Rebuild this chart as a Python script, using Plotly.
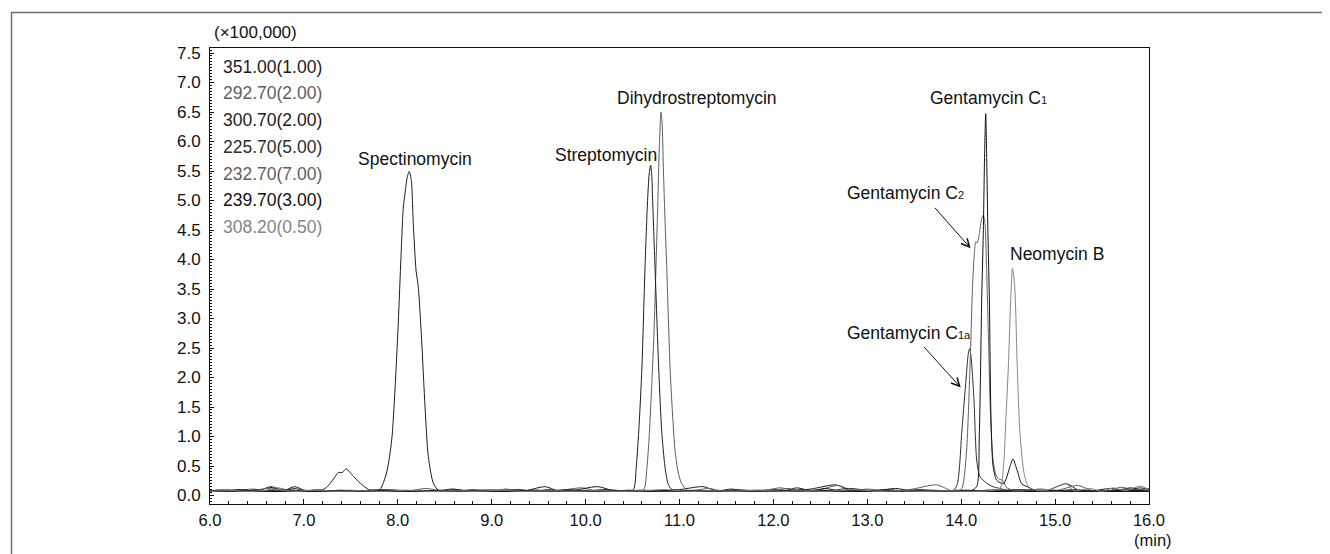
import plotly.graph_objects as go

# ---------------- data (retention time in min, intensity in x100,000) ----------------
CHANNELS = ["351.00(1.00)", "292.70(2.00)", "300.70(2.00)", "225.70(5.00)",
            "232.70(7.00)", "239.70(3.00)", "308.20(0.50)"]
CHANNEL_COLORS = ["#1c1c1c", "#5e5e5e", "#1c1c1c", "#2e2e2e", "#606060", "#111111", "#858585"]

# 351.00 - Spectinomycin
T_351 = [6.0, 6.1, 6.2, 6.3, 6.4, 6.5, 6.6, 6.65, 6.7, 6.8, 6.9, 7.0, 7.1, 7.2, 7.25,
         7.31, 7.37, 7.41, 7.45, 7.53, 7.6, 7.69, 7.77, 7.81,
         7.88, 7.935, 7.97, 8.005, 8.034, 8.059, 8.077, 8.101, 8.122, 8.144, 8.165, 8.194,
         8.218, 8.254, 8.29, 8.325, 8.378, 8.431, 8.5, 8.62, 8.75, 8.9, 9.05, 9.2, 9.35,
         9.57, 9.7, 9.85, 10.0, 10.2, 10.4, 10.6, 10.8, 11.0, 11.25, 11.4, 11.6, 11.8,
         12.0, 12.2, 12.4, 12.67, 12.8, 13.0, 13.2, 13.4, 13.6, 13.8, 14.0, 14.3, 14.6,
         14.9, 15.12, 15.25, 15.4, 15.6, 15.75, 15.9, 16.0]
I_351 = [0.08, 0.09, 0.08, 0.10, 0.08, 0.10, 0.08, 0.14, 0.09, 0.08, 0.12, 0.08, 0.09, 0.10, 0.15,
         0.27, 0.39, 0.39, 0.45, 0.32, 0.21, 0.10, 0.08, 0.10,
         0.38, 0.94, 1.79, 2.92, 4.05, 4.89, 5.12, 5.40, 5.49, 5.34, 4.61, 3.82,
         3.54, 2.63, 1.50, 0.66, 0.21, 0.09, 0.08, 0.10, 0.08, 0.09, 0.08, 0.10, 0.08,
         0.15, 0.08, 0.09, 0.08, 0.10, 0.08, 0.09, 0.08, 0.10, 0.15, 0.08, 0.09, 0.08,
         0.10, 0.08, 0.11, 0.18, 0.09, 0.08, 0.10, 0.08, 0.09, 0.08, 0.09, 0.08, 0.10,
         0.08, 0.20, 0.09, 0.08, 0.12, 0.08, 0.13, 0.10]

# 292.70 - Dihydrostreptomycin
T_292 = [6.0, 6.12, 6.25, 6.45, 6.6, 6.72, 6.85, 7.0, 7.15, 7.3, 7.5, 7.7, 7.9, 8.1, 8.3,
         8.45, 8.6, 8.8, 9.0, 9.15, 9.3, 9.5, 9.65, 9.96, 10.1, 10.3, 10.45, 10.6,
         10.627, 10.655, 10.679, 10.705, 10.728, 10.75, 10.768, 10.785, 10.803, 10.815,
         10.828, 10.845, 10.864, 10.899, 10.925, 10.952, 10.985, 11.02, 11.08, 11.15,
         11.3, 11.45, 11.65, 11.85, 12.07, 12.2, 12.35, 12.5, 12.69, 12.85, 13.0, 13.2,
         13.45, 13.74, 13.9, 14.1, 14.35, 14.6, 14.85, 15.0, 15.24, 15.4, 15.55, 15.7,
         15.85, 16.0]
I_292 = [0.07, 0.09, 0.07, 0.11, 0.08, 0.13, 0.08, 0.07, 0.10, 0.07, 0.09, 0.07, 0.10, 0.07, 0.12,
         0.08, 0.07, 0.10, 0.07, 0.11, 0.07, 0.09, 0.07, 0.13, 0.08, 0.09, 0.07, 0.08,
         0.12, 0.50, 1.05, 1.90, 2.75, 3.90, 4.90, 5.90, 6.50, 6.30,
         5.57, 4.70, 3.88, 2.18, 1.40, 0.77, 0.40, 0.21, 0.09, 0.08,
         0.12, 0.08, 0.10, 0.07, 0.13, 0.09, 0.07, 0.10, 0.17, 0.08, 0.11, 0.07,
         0.10, 0.18, 0.08, 0.07, 0.10, 0.07, 0.11, 0.08, 0.17, 0.08, 0.07, 0.14,
         0.09, 0.12]

# 300.70 - Streptomycin
T_300 = [6.0, 6.2, 6.35, 6.5, 6.65, 6.78, 6.9, 7.02, 7.2, 7.4, 7.6, 7.8, 8.0, 8.2, 8.4,
         8.58, 8.75, 8.95, 9.1, 9.3, 9.45, 9.6, 9.8, 10.13, 10.3, 10.45,
         10.51, 10.54, 10.57, 10.6, 10.633, 10.66, 10.677, 10.693, 10.705, 10.714, 10.739,
         10.778, 10.81, 10.845, 10.88, 10.92, 11.0, 11.2, 11.4, 11.55, 11.7, 11.9, 12.1,
         12.25, 12.4, 12.55, 12.7, 12.9, 13.05, 13.3, 13.5, 13.7, 13.9, 14.1, 14.4, 14.7,
         14.95, 15.2, 15.35, 15.5, 15.65, 15.8, 15.95, 16.0]
I_300 = [0.09, 0.07, 0.10, 0.07, 0.15, 0.08, 0.15, 0.08, 0.07, 0.09, 0.07, 0.08, 0.07, 0.09, 0.07,
         0.11, 0.07, 0.08, 0.07, 0.10, 0.07, 0.10, 0.07, 0.15, 0.08, 0.09,
         0.10, 0.49, 1.20, 2.18, 3.88, 5.00, 5.45, 5.60, 5.40, 5.00, 3.88,
         2.18, 1.10, 0.49, 0.19, 0.10, 0.08, 0.09, 0.07, 0.11, 0.07, 0.08, 0.07,
         0.13, 0.08, 0.12, 0.08, 0.10, 0.07, 0.12, 0.07, 0.09, 0.07, 0.08, 0.07, 0.09,
         0.07, 0.10, 0.07, 0.09, 0.07, 0.13, 0.08, 0.09]

# 225.70 - Gentamycin C1a
T_225 = [6.0, 6.3, 6.55, 6.8, 7.05, 7.3, 7.55, 7.8, 8.05, 8.3, 8.55, 8.8, 9.05, 9.3, 9.55,
         9.8, 10.05, 10.3, 10.55, 10.8, 11.05, 11.3, 11.55, 11.8, 12.05, 12.3, 12.55, 12.8,
         13.05, 13.3, 13.55, 13.8, 13.92, 13.96, 13.985, 14.005, 14.048, 14.076, 14.09,
         14.105, 14.136, 14.165, 14.2, 14.27, 14.34, 14.41, 14.5, 14.7, 14.95, 15.2, 15.45,
         15.7, 16.0]
I_225 = [0.07, 0.09, 0.07, 0.10, 0.07, 0.08, 0.07, 0.10, 0.07, 0.08, 0.07, 0.09, 0.07, 0.08, 0.07,
         0.10, 0.07, 0.08, 0.07, 0.09, 0.07, 0.08, 0.07, 0.09, 0.07, 0.10, 0.07, 0.12,
         0.08, 0.07, 0.10, 0.07, 0.09, 0.20, 0.55, 1.05, 1.90, 2.41, 2.49,
         2.35, 1.62, 0.60, 0.32, 0.21, 0.15, 0.12, 0.08, 0.09, 0.07, 0.08, 0.07,
         0.09, 0.07]

# 232.70 - Gentamycin C2
T_232 = [6.0, 6.18, 6.4, 6.62, 6.75, 7.0, 7.25, 7.5, 7.75, 8.0, 8.25, 8.5, 8.75, 9.0, 9.25,
         9.5, 9.75, 10.0, 10.25, 10.5, 10.75, 11.0, 11.25, 11.5, 11.75, 12.0, 12.15, 12.3,
         12.55, 12.75, 13.0, 13.25, 13.5, 13.75, 13.95, 14.0, 14.022, 14.058, 14.094, 14.122,
         14.14, 14.155, 14.17, 14.193, 14.218, 14.235, 14.253, 14.27, 14.289, 14.313, 14.34,
         14.37, 14.4, 14.44, 14.48, 14.55, 14.8, 15.0, 15.25, 15.5, 15.75, 16.0]
I_232 = [0.08, 0.10, 0.07, 0.12, 0.07, 0.09, 0.07, 0.08, 0.07, 0.09, 0.07, 0.08, 0.07, 0.10, 0.07,
         0.08, 0.07, 0.09, 0.07, 0.08, 0.07, 0.08, 0.07, 0.09, 0.07, 0.08, 0.12, 0.07,
         0.09, 0.07, 0.09, 0.07, 0.08, 0.07, 0.08, 0.10, 0.20, 0.77, 2.18, 3.60,
         4.10, 4.30, 4.28, 4.44, 4.69, 4.75, 4.61, 3.88, 2.75, 1.33, 0.60,
         0.35, 0.28, 0.26, 0.14, 0.09, 0.10, 0.07, 0.10, 0.07, 0.11, 0.08]

# 239.70 - Gentamycin C1
T_239 = [6.0, 6.25, 6.5, 6.7, 6.95, 7.2, 7.45, 7.7, 7.95, 8.2, 8.45, 8.7, 8.95, 9.2, 9.45,
         9.7, 9.95, 10.2, 10.45, 10.7, 10.95, 11.2, 11.45, 11.7, 11.95, 12.2, 12.45, 12.7,
         12.95, 13.2, 13.45, 13.7, 13.95, 14.1, 14.165, 14.193, 14.218, 14.235, 14.25,
         14.261, 14.27, 14.285, 14.3, 14.317, 14.34, 14.378, 14.45, 14.52, 14.55, 14.597,
         14.644, 14.715, 14.8, 15.0, 15.12, 15.3, 15.5, 15.8, 16.0]
I_239 = [0.08, 0.07, 0.09, 0.07, 0.08, 0.07, 0.08, 0.07, 0.09, 0.07, 0.09, 0.07, 0.08, 0.07, 0.09,
         0.07, 0.08, 0.07, 0.08, 0.07, 0.09, 0.07, 0.08, 0.07, 0.08, 0.07, 0.09, 0.07,
         0.08, 0.07, 0.08, 0.07, 0.08, 0.08, 0.15, 1.05, 3.31, 4.44, 5.85,
         6.47, 5.85, 4.44, 3.31, 1.33, 0.49, 0.26, 0.20, 0.49, 0.62, 0.42,
         0.20, 0.14, 0.08, 0.09, 0.07, 0.08, 0.07, 0.09, 0.07]

# 308.20 - Neomycin B
T_308 = [6.0, 6.2, 6.45, 6.7, 6.9, 7.1, 7.35, 7.6, 7.85, 8.1, 8.35, 8.6, 8.85, 9.1, 9.35,
         9.6, 9.85, 10.1, 10.35, 10.6, 10.85, 11.1, 11.35, 11.6, 11.85, 12.1, 12.35, 12.6,
         12.85, 13.1, 13.35, 13.6, 13.85, 14.1, 14.3, 14.413, 14.45, 14.477, 14.502, 14.527,
         14.546, 14.57, 14.597, 14.626, 14.669, 14.715, 14.77, 14.9, 15.12, 15.2, 15.37,
         15.5, 15.62, 15.75, 15.9, 16.0]
I_308 = [0.07, 0.08, 0.07, 0.10, 0.07, 0.09, 0.07, 0.08, 0.07, 0.09, 0.07, 0.08, 0.07, 0.09, 0.07,
         0.08, 0.07, 0.08, 0.07, 0.08, 0.10, 0.07, 0.08, 0.07, 0.09, 0.07, 0.08, 0.07,
         0.10, 0.07, 0.08, 0.07, 0.08, 0.07, 0.08, 0.12, 0.49, 1.33, 2.18, 3.31,
         3.85, 3.54, 2.18, 1.05, 0.38, 0.15, 0.10, 0.08, 0.20, 0.08, 0.12,
         0.07, 0.13, 0.08, 0.16, 0.10]

BASELINE_LEVEL = 0.075
X_RANGE = [6.0, 16.0]
Y_RANGE = [-0.144, 7.585]

# compound labels: (text, x, y)
PEAK_LABELS = [
    ("Spectinomycin", 7.56, 5.71),
    ("Streptomycin", 9.65, 5.77),
    ("Dihydrostreptomycin", 10.31, 6.74),
    ("Gentamycin C<span style='font-size:11px'>1</span>", 13.646, 6.74),
    ("Gentamycin C<span style='font-size:11px'>2</span>", 12.763, 5.12),
    ("Neomycin B", 14.50, 4.10),
    ("Gentamycin C<span style='font-size:11px'>1a</span>", 12.763, 2.75),
]
# arrows: head (x, y) and tail offset in pixels
ARROWS = [(14.10, 4.19, -37, -42), (13.995, 1.83, -38, -42)]

# ---------------- figure ----------------
SERIES = [(T_351, I_351), (T_292, I_292), (T_300, I_300), (T_225, I_225),
          (T_232, I_232), (T_239, I_239), (T_308, I_308)]

FONT = "Liberation Sans, Arial, Helvetica, sans-serif"
OFF = 8                      # default page body margin in the browser
W, H = 1330 - OFF, 554 - OFF
ML, MR, MT, MB = 202, 181, 40, 50
PW, PH = W - ML - MR, H - MT - MB

fig = go.Figure()
fig.add_trace(go.Scatter(x=X_RANGE, y=[BASELINE_LEVEL, BASELINE_LEVEL], mode="lines",
                         line=dict(color="#1a1a1a", width=2), hoverinfo="skip", showlegend=False))
for (t, i), name, col in zip(SERIES, CHANNELS, CHANNEL_COLORS):
    fig.add_trace(go.Scatter(x=t, y=i, mode="lines", name=name,
                             line=dict(color=col, width=1, shape="spline", smoothing=0.7),
                             hoverinfo="skip", showlegend=False))


def px_x(p):
    """page pixel x -> paper fraction"""
    return (p - OFF - ML) / PW


def px_y(p):
    """page pixel y -> paper fraction"""
    return (H - MB - (p - OFF)) / PH


ann = []
ann.append(dict(text="(×100,000)", xref="paper", yref="paper", x=px_x(212), y=px_y(32.5),
                xanchor="left", yanchor="middle", showarrow=False,
                font=dict(family=FONT, size=17, color="#111")))
legend_y = [66.5, 93.3, 120, 146.8, 173.5, 200.3, 227]
for name, col, py in zip(CHANNELS, CHANNEL_COLORS, legend_y):
    ann.append(dict(text=name, xref="paper", yref="paper", x=px_x(221), y=px_y(py),
                    xanchor="left", yanchor="middle", showarrow=False,
                    font=dict(family=FONT, size=17.5, color=col)))
ann.append(dict(text="(min)", xref="paper", yref="paper", x=px_x(1153), y=px_y(540),
                xanchor="center", yanchor="middle", showarrow=False,
                font=dict(family=FONT, size=16.5, color="#111")))
for txt, x, y in PEAK_LABELS:
    ann.append(dict(text=txt, x=x, y=y, xref="x", yref="y", xanchor="left", yanchor="middle",
                    showarrow=False, font=dict(family=FONT, size=17.5, color="#111")))
for x, y, ax, ay in ARROWS:
    ann.append(dict(text="", x=x, y=y, xref="x", yref="y", ax=ax, ay=ay, showarrow=True,
                    arrowhead=5, arrowsize=1.6, arrowwidth=1, arrowcolor="#111", standoff=0))

fig.update_layout(
    width=W, height=H, autosize=False,
    margin=dict(l=ML, r=MR, t=MT, b=MB, pad=0),
    paper_bgcolor="white", plot_bgcolor="white",
    font=dict(family=FONT, size=17, color="#111"),
    annotations=ann,
    shapes=[dict(type="path", xref="paper", yref="paper",
                 path=f"M {px_x(11.5)},{px_y(600)} L {px_x(11.5)},{px_y(12.5)} L {px_x(1400)},{px_y(12.5)}",
                 line=dict(color="#707070", width=1.5))],
    xaxis=dict(range=X_RANGE, tick0=6, dtick=1, tickformat=".1f", ticks="inside", ticklen=5,
               tickcolor="#111", showline=True, linecolor="#111", linewidth=1, mirror=True,
               showgrid=False, zeroline=False, ticklabelstandoff=1,
               tickfont=dict(family=FONT, size=16.5, color="#111"),
               minor=dict(dtick=0.2, ticks="inside", ticklen=3, tickcolor="#111", showgrid=False)),
    yaxis=dict(range=Y_RANGE, tick0=0, dtick=0.5, tickformat=".1f", ticks="inside", ticklen=4,
               tickcolor="#111", showline=True, linecolor="#111", linewidth=1, mirror=True,
               showgrid=False, zeroline=False, ticklabelstandoff=5,
               tickfont=dict(family=FONT, size=17, color="#111"),
               minor=dict(dtick=0.05, ticks="inside", ticklen=2, tickcolor="#111", showgrid=False)),
)

fig.write_html("out.html")
